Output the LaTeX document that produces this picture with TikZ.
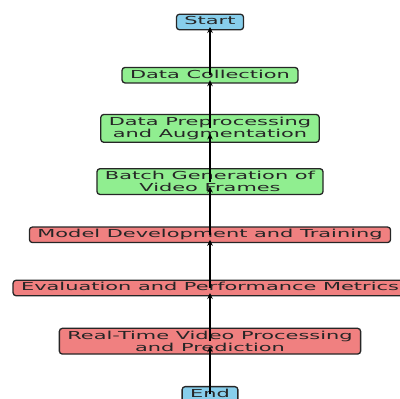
\documentclass[tikz,border=0pt]{standalone}
\usepackage{fontspec}
\setmainfont{DejaVu Sans}
\newfontfamily\widefont[FakeStretch=1.9]{DejaVu Sans}
\usetikzlibrary{arrows.meta}
\definecolor{skyb}{RGB}{135,206,235}
\definecolor{lgreen}{RGB}{144,238,144}
\definecolor{lcoral}{RGB}{240,128,128}
\begin{document}
\begin{tikzpicture}[x=1pt,y=1pt,
  box/.style={draw=black!85, line width=1.3pt, rounded corners=3pt,
    font=\widefont\fontsize{11}{12}\selectfont, text=black!85, align=center,
    inner xsep=8pt, inner ysep=2.6pt},
  single/.style={text height=8pt, text depth=2.3pt},
  termbox/.style={box, single, fill=skyb},
  greenbox/.style={box, fill=lgreen},
  redbox/.style={box, fill=lcoral},
  flow/.style={draw=black, line width=1.8pt, -{Stealth[length=6pt,width=5.5pt]}}]
\useasboundingbox (0,0) rectangle (400,399);
\node[termbox] (start) at (210,377) {Start};
\node[greenbox, single] (collect) at (210,323.8) {Data Collection};
\node[greenbox] (prep) at (210,270.6) {Data Preprocessing\\and Augmentation};
\node[greenbox] (batch) at (210,217.4) {Batch Generation of\\Video Frames};
\node[redbox, single] (model) at (210,164.2) {Model Development and Training};
\node[redbox, single] (eval) at (210,111) {Evaluation and Performance Metrics};
\node[redbox] (rt) at (210,57.8) {Real-Time Video Processing\\and Prediction};
\node[termbox] (end) at (210,4.6) {End};
\draw[flow] (collect.center) -- ([yshift=-5pt]start.center);
\draw[flow] (prep.center) -- ([yshift=-5pt]collect.center);
\draw[flow] (batch.center) -- ([yshift=-5pt]prep.center);
\draw[flow] (model.center) -- ([yshift=-5pt]batch.center);
\draw[flow] (eval.center) -- ([yshift=-5pt]model.center);
\draw[flow] (rt.center) -- ([yshift=-5pt]eval.center);
\draw[flow] (end.center) -- ([yshift=-5pt]rt.center);
\end{tikzpicture}
\end{document}
